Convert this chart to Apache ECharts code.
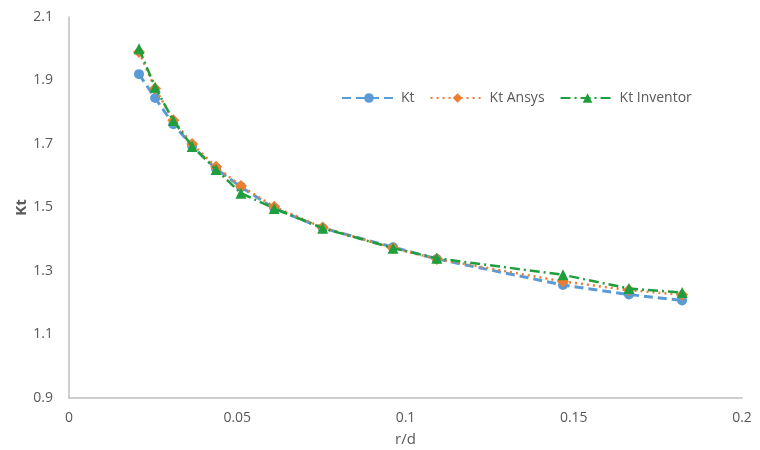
<!DOCTYPE html>
<html>
<head>
<meta charset="utf-8">
<script src="https://cdn.jsdelivr.net/npm/echarts@6/dist/echarts.min.js"></script>
<style>
  html, body { margin: 0; padding: 0; background: #fff; }
  #main { width: 760px; height: 450px; }
</style>
</head>
<body>
<div id="main"></div>
<script>
var rd = [0.0208, 0.0256, 0.031, 0.0366, 0.0437, 0.0511, 0.061, 0.0754, 0.0963, 0.1093, 0.1468, 0.1664, 0.1822];
var kt = [1.92, 1.845, 1.762, 1.694, 1.622, 1.565, 1.497, 1.435, 1.375, 1.338, 1.256, 1.226, 1.207];
var ktAnsys = [1.99, 1.875, 1.775, 1.70, 1.628, 1.568, 1.502, 1.437, 1.372, 1.338, 1.267, 1.24, 1.225];
var ktInventor = [2.0, 1.879, 1.774, 1.692, 1.62, 1.545, 1.497, 1.435, 1.372, 1.34, 1.288, 1.245, 1.232];

function pairs(ys) {
  return rd.map(function (x, i) { return [x, ys[i]]; });
}

var chartDom = document.getElementById('main');
var myChart = echarts.init(chartDom);
var option;

var textColor = '#595959';
var axisColor = '#bfbfbf';
var font = 'Open Sans';

option = {
  animation: false,
  grid: { left: 69, right: 18, top: 17, bottom: 52, outerBoundsMode: 'none' },
  legend: {
    left: 336,
    top: 86,
    itemWidth: 54,
    itemHeight: 12,
    itemGap: 15,
    textStyle: { color: textColor, fontSize: 14, fontFamily: font },
    data: ['Kt', 'Kt Ansys', 'Kt Inventor']
  },
  xAxis: {
    type: 'value',
    min: 0,
    max: 0.2,
    interval: 0.05,
    name: 'r/d',
    nameLocation: 'middle',
    nameGap: 34,
    nameMoveOverlap: false,
    nameTextStyle: { color: textColor, fontSize: 15, fontFamily: font },
    axisLine: { lineStyle: { color: axisColor, width: 1.5 } },
    axisTick: { show: false },
    splitLine: { show: false },
    axisLabel: { color: textColor, fontSize: 14, fontFamily: font, margin: 13 }
  },
  yAxis: {
    type: 'value',
    min: 0.9,
    max: 2.1,
    interval: 0.2,
    name: 'Kt',
    nameLocation: 'middle',
    nameGap: 40,
    nameMoveOverlap: false,
    nameTextStyle: { color: textColor, fontSize: 15, fontFamily: font, fontWeight: 'bold' },
    axisLine: { show: true, lineStyle: { color: axisColor, width: 1.5 } },
    axisTick: { show: false },
    splitLine: { show: false },
    axisLabel: {
      color: textColor, fontSize: 14, fontFamily: font, margin: 16,
      formatter: function (v) { return +v.toFixed(1); }
    }
  },
  series: [
    {
      name: 'Kt',
      type: 'line',
      data: pairs(kt),
      symbol: 'circle',
      symbolSize: 10,
      itemStyle: { color: '#5b9bd5' },
      lineStyle: { color: '#5b9bd5', width: 3, type: [9, 5] },
      z: 2
    },
    {
      name: 'Kt Ansys',
      type: 'line',
      data: pairs(ktAnsys),
      symbol: 'diamond',
      symbolSize: 12,
      itemStyle: { color: '#ed7d31' },
      lineStyle: { color: '#ed7d31', width: 2.5, type: [2, 4] },
      z: 3
    },
    {
      name: 'Kt Inventor',
      type: 'line',
      data: pairs(ktInventor),
      symbol: 'triangle',
      symbolSize: 11,
      itemStyle: { color: '#1e9e3c' },
      lineStyle: { color: '#1e9e3c', width: 2.5, type: [10, 4, 2, 4] },
      z: 4
    }
  ]
};

option && myChart.setOption(option);
</script>
</body>
</html>
